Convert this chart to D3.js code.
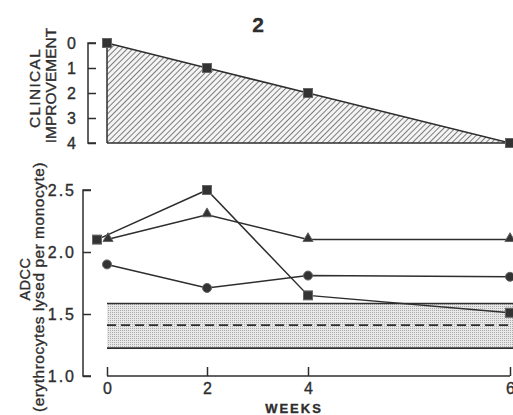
<!DOCTYPE html>
<html><head><meta charset="utf-8">
<script src="https://cdn.jsdelivr.net/npm/d3@7"></script>
<style>body{margin:0;background:#fff}svg{display:block}</style>
</head><body>
<svg id="c" width="513" height="415"></svg>
<script>
const weeks = [0, 2, 4, 6];
const weekTicks = [0, 2, 4, 6];
const clinical = [0, 1, 2, 4];
const clinicalTicks = [0, 1, 2, 3, 4];
const squares = [2.1, 2.5, 1.65, 1.51];
const triangles = [2.1, 2.3, 2.1, 2.1];
const circles = [1.9, 1.71, 1.81, 1.8];
const bandLow = 1.225, bandMid = 1.41, bandHigh = 1.585;
const adccTicks = [1.0, 1.5, 2.0, 2.5];
const adccTickLabels = ["1.0", "1.5", "2.0", "2.5"];

const ink = "#2e2e2e";
const font = "Liberation Sans, Arial, sans-serif";
const svg = d3.select("#c");

const x = d3.scaleLinear().domain([0, 2, 4, 6]).range([107, 207, 308, 510]);
const yTop = d3.scaleLinear().domain([0, 4]).range([43, 143]);
const yBot = d3.scaleLinear().domain([1.0, 2.5]).range([376, 190]);

const defs = svg.append("defs");
const hatch = defs.append("pattern").attr("id", "hatch").attr("patternUnits", "userSpaceOnUse")
  .attr("width", 4).attr("height", 4).attr("patternTransform", "rotate(45)");
hatch.append("rect").attr("width", 4).attr("height", 4).attr("fill", "#f4f4f4");
hatch.append("line").attr("x1", 0).attr("y1", 0).attr("x2", 0).attr("y2", 4)
  .attr("stroke", "#555").attr("stroke-width", 1.5);
const dots = defs.append("pattern").attr("id", "dots").attr("patternUnits", "userSpaceOnUse")
  .attr("width", 2).attr("height", 2);
dots.append("rect").attr("width", 2).attr("height", 2).attr("fill", "#e8e8e8");
dots.append("rect").attr("width", 1).attr("height", 1).attr("fill", "#aaa");

const txt = (sel) => sel.attr("font-family", font).attr("fill", ink)
  .attr("stroke", ink).attr("stroke-width", 0.35);

// title
txt(svg.append("text").attr("x", 258).attr("y", 32).attr("text-anchor", "middle")
  .attr("font-weight", "bold").attr("font-size", 21)).text("2");

// ---- top panel
const gTop = svg.append("g");
const area = d3.area().x((d, i) => x(weeks[i])).y0(yTop(4)).y1(d => yTop(d));
gTop.append("path").datum(clinical).attr("d", area).attr("fill", "url(#hatch)");
gTop.append("path").datum(clinical)
  .attr("d", d3.line().x((d, i) => x(weeks[i])).y(d => yTop(d)))
  .attr("fill", "none").attr("stroke", ink).attr("stroke-width", 1.5);
gTop.append("line").attr("x1", x(0)).attr("x2", x(0)).attr("y1", yTop(0)).attr("y2", yTop(4))
  .attr("stroke", ink).attr("stroke-width", 1.5);
gTop.append("line").attr("x1", x(0)).attr("x2", x(6)).attr("y1", yTop(4)).attr("y2", yTop(4))
  .attr("stroke", ink).attr("stroke-width", 1.5);
gTop.selectAll("rect.m").data(clinical).enter().append("rect")
  .attr("x", (d, i) => x(weeks[i]) - 4.5).attr("y", d => yTop(d) - 4.5)
  .attr("width", 9).attr("height", 9).attr("fill", "#333").attr("stroke", "#666");

const axTop = gTop.append("g").attr("transform", "translate(88,0)")
  .call(d3.axisRight(yTop).tickValues(clinicalTicks).tickSize(8).tickFormat(d3.format("d")));
axTop.select(".domain").attr("stroke", ink).attr("stroke-width", 1.5).attr("d", `M8,${yTop(0)}H0V${yTop(4)}H8`);
axTop.selectAll(".tick line").attr("stroke", ink).attr("stroke-width", 1.5);
txt(axTop.selectAll(".tick text").attr("x", -12).attr("text-anchor", "end").attr("font-size", 16));

txt(svg.append("text").attr("transform", "translate(40,88) rotate(-90)").attr("text-anchor", "middle")
  .attr("font-size", 15.5).attr("letter-spacing", 1.3)).text("CLINICAL");
txt(svg.append("text").attr("transform", "translate(56,85.5) rotate(-90)").attr("text-anchor", "middle")
  .attr("font-size", 15.5)).text("IMPROVEMENT");

// ---- bottom panel
const bot = svg.append("g");
bot.append("rect").attr("x", x(0)).attr("width", 513 - x(0))
  .attr("y", yBot(bandHigh)).attr("height", yBot(bandLow) - yBot(bandHigh)).attr("fill", "url(#dots)");
[bandHigh, bandLow].forEach(v => bot.append("line").attr("x1", x(0)).attr("x2", 513)
  .attr("y1", yBot(v)).attr("y2", yBot(v)).attr("stroke", ink).attr("stroke-width", 1.6));
bot.append("line").attr("x1", x(0)).attr("x2", 513).attr("y1", yBot(bandMid)).attr("y2", yBot(bandMid))
  .attr("stroke", ink).attr("stroke-width", 1.8).attr("stroke-dasharray", "9,5");

// square series' first marker sits slightly left of week 0 in the original
const sqDx = (i) => (i === 0 ? -10 : 0);
const line = (dx) => d3.line().x((d, i) => x(weeks[i]) + dx(i)).y(d => yBot(d));
bot.append("path").datum(squares).attr("d", line(sqDx))
  .attr("fill", "none").attr("stroke", ink).attr("stroke-width", 1.5);
[triangles, circles].forEach(s => bot.append("path").datum(s).attr("d", line(() => 0))
  .attr("fill", "none").attr("stroke", ink).attr("stroke-width", 1.5));

bot.selectAll("circle.m").data(circles).enter().append("circle")
  .attr("cx", (d, i) => x(weeks[i])).attr("cy", d => yBot(d)).attr("r", 4.5)
  .attr("fill", "#333").attr("stroke", "#666");
const tri = d3.symbol().type(d3.symbolTriangle).size(45);
bot.selectAll("path.t").data(triangles).enter().append("path")
  .attr("d", tri).attr("transform", (d, i) => `translate(${x(weeks[i]) + (i === 0 ? 1 : 0)},${yBot(d) - 1})`)
  .attr("fill", "#333").attr("stroke", "#666");
bot.selectAll("rect.s").data(squares).enter().append("rect")
  .attr("x", (d, i) => x(weeks[i]) - 4.5 + sqDx(i)).attr("y", d => yBot(d) - 4.5)
  .attr("width", 9).attr("height", 9).attr("fill", "#333").attr("stroke", "#666");

const axL = bot.append("g").attr("transform", "translate(83,0)")
  .call(d3.axisRight(yBot).tickValues(adccTicks).tickSize(8).tickFormat((d, i) => adccTickLabels[i]));
axL.select(".domain").attr("stroke", ink).attr("stroke-width", 1.5).attr("d", `M8,${yBot(2.5)}H0V${yBot(1.0)}H8`);
axL.selectAll(".tick line").attr("stroke", ink).attr("stroke-width", 1.5);
txt(axL.selectAll(".tick text").attr("x", -7).attr("text-anchor", "end")
  .attr("font-size", 16).attr("letter-spacing", 2));

const axB = bot.append("g").attr("transform", `translate(0,${yBot(1.0)})`)
  .call(d3.axisTop(x).tickValues(weekTicks).tickSize(9).tickFormat(d3.format("d")));
axB.select(".domain").attr("stroke", ink).attr("stroke-width", 1.5).attr("d", `M${x(0)},0H${x(6)}`);
axB.selectAll(".tick line").attr("stroke", ink).attr("stroke-width", 1.5);
txt(axB.selectAll(".tick text").attr("y", 18).attr("dy", "0").attr("font-size", 16));

txt(svg.append("text").attr("x", 294).attr("y", 413).attr("text-anchor", "middle")
  .attr("font-weight", "bold").attr("font-size", 13).attr("letter-spacing", 2)).text("WEEKS");
txt(svg.append("text").attr("transform", "translate(30,279) rotate(-90)").attr("text-anchor", "middle")
  .attr("font-size", 14.5).attr("letter-spacing", 0.5)).text("ADCC");
txt(svg.append("text").attr("transform", "translate(44,287) rotate(-90)").attr("text-anchor", "middle")
  .attr("font-size", 15.5).attr("letter-spacing", 0.5)).text("(erythrocytes lysed per monocyte)");
</script>
</body></html>
